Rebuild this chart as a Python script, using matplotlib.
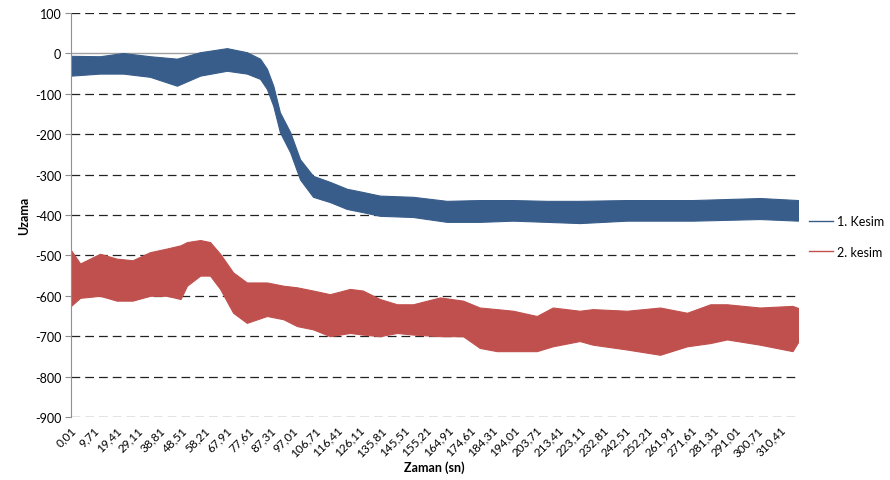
import matplotlib.pyplot as plt
from matplotlib.lines import Line2D

# zarf değerleri: zaman, üst ve alt sınır
ZAMAN_1 = [0, 12.7, 22.8, 34.6, 46.4, 56.6, 68.3, 77, 82.8, 85.8,
           88.6, 91.5, 96, 100.3, 106, 113.4, 120.8, 127.8, 135.3, 149.8,
           164.6, 179, 193.6, 208.4, 222.8, 243.5, 272.5, 301.7, 318.4]
UST_1 = [-6, -7, 1, -7, -13, 3, 13, 3, -13, -38,
         -80, -146, -195, -262, -303, -318, -335, -343, -352, -355,
         -365, -363, -363, -365, -365, -363, -363, -358, -363]
ALT_1 = [-55, -50, -50, -58, -80, -55, -43, -50, -63, -88,
         -130, -195, -245, -312, -355, -368, -385, -393, -402, -405,
         -417, -417, -414, -417, -420, -414, -414, -410, -414]

ZAMAN_2 = [0, 4, 12.7, 20, 27, 34.6, 42, 48, 50.8, 56.6,
           60.9, 65.3, 71, 77, 85.8, 93, 99, 106, 113.4, 122.2,
           127.8, 135.3, 142.8, 149.8, 161.6, 171.7, 179, 186.5, 193.6, 204,
           211, 222.8, 228.5, 243.5, 258, 269.8, 280, 287.3, 301.7, 316, 318.4]
UST_2 = [-487, -520, -496, -508, -512, -492, -483, -475, -467, -462,
         -467, -496, -542, -567, -567, -575, -579, -587, -596, -583,
         -587, -608, -621, -621, -604, -612, -629, -633, -637, -650,
         -629, -637, -633, -637, -629, -642, -621, -621, -629, -625, -630]
ALT_2 = [-625, -605, -600, -612, -612, -600, -600, -608, -575, -550,
         -550, -583, -642, -667, -650, -658, -675, -683, -700, -692,
         -696, -700, -692, -696, -700, -700, -729, -737, -737, -737,
         -725, -712, -721, -733, -746, -725, -717, -708, -721, -737, -715]

X_ETIKET = ['0,01', '9,71', '19,41', '29,11', '38,81', '48,51', '58,21', '67,91',
            '77,61', '87,31', '97,01', '106,71', '116,41', '126,11', '135,81',
            '145,51', '155,21', '164,91', '174,61', '184,31', '194,01', '203,71',
            '213,41', '223,11', '232,81', '242,51', '252,21', '261,91', '271,61',
            '281,31', '291,01', '300,71', '310,41']
X_KONUM = [float(e.replace(',', '.')) for e in X_ETIKET]
Y_KONUM = list(range(100, -1000, -100))

MAVI = '#385d8a'
KIRMIZI = '#c0504d'

plt.rcParams['font.family'] = ['Lato', 'DejaVu Sans']

fig = plt.figure(figsize=(8.9, 4.81), dpi=100)
ax = fig.add_axes([71 / 890, 1 - 418 / 481, 727 / 890, 404 / 481])

ax.fill_between(ZAMAN_1, ALT_1, UST_1, color=MAVI, lw=0.8, edgecolor=MAVI)
ax.fill_between(ZAMAN_2, ALT_2, UST_2, color=KIRMIZI, lw=0.8, edgecolor=KIRMIZI)

ax.set_xlim(0, 318.4)
ax.set_ylim(-900, 100)

for y in Y_KONUM:
    if y == 0:
        ax.axhline(y, color='#a0a0a0', lw=1.0, zorder=0)
    else:
        ax.axhline(y, color='#222222', lw=0.9, dashes=(7, 4), zorder=0)

for s in ['top', 'right', 'bottom']:
    ax.spines[s].set_visible(False)
ax.spines['left'].set_color('#909090')

ax.set_yticks(Y_KONUM)
ax.set_yticklabels([str(v) for v in Y_KONUM], fontsize=9)
ax.tick_params(axis='y', length=4, color='#909090', pad=3)

ax.set_xticks(X_KONUM)
ax.set_xticklabels(X_ETIKET, rotation=45, ha='right', rotation_mode='anchor', fontsize=8.5)
ax.tick_params(axis='x', length=0, pad=5)

ax.set_ylabel('Uzama', fontsize=9, fontweight='bold', labelpad=3)
ax.set_xlabel('Zaman (sn)', fontsize=9, fontweight='bold', labelpad=2)

tutamak = [Line2D([0], [0], color=MAVI, lw=1),
           Line2D([0], [0], color=KIRMIZI, lw=1)]
ax.legend(tutamak, ['1. Kesim', '2. kesim'], loc='center left',
          bbox_to_anchor=(1.0, 0.447), frameon=False, fontsize=9,
          handlelength=1.9, labelspacing=1.5, handletextpad=0.3)

fig.savefig('out.png', dpi=100)
